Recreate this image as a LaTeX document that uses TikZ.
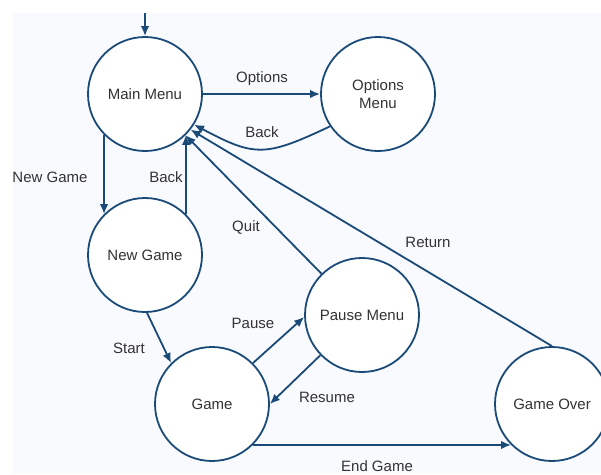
\documentclass[tikz,border=0pt]{standalone}
\usepackage{fontspec}
\setmainfont{Liberation Sans}
\usetikzlibrary{arrows.meta}
\definecolor{navy}{HTML}{1A4A78}
\definecolor{txt}{HTML}{333333}
\definecolor{bgc}{HTML}{F9FAFD}
\tikzset{
  state/.style={circle, draw=navy, line width=1.8pt, fill=white, minimum size=114pt, inner sep=0pt, text=txt, font=\fontsize{15}{18}\selectfont, align=center},
  arr/.style={draw=navy, line width=1.8pt, -{Latex[length=10pt,width=8.5pt]}},
  lbl/.style={text=txt, font=\fontsize{15}{18}\selectfont, inner sep=0pt}
}
\begin{document}
\begin{tikzpicture}[x=1pt,y=-1pt]
\useasboundingbox (0,0) rectangle (601,474);
\fill[bgc] (13,13) rectangle (601,474);
\node[state] (mm) at (145,94) {Main Menu};
\node[state] (om) at (378,94) {Options\\Menu};
\node[state] (ng) at (145,255) {New Game};
\node[state] (g) at (212,404) {Game};
\node[state] (pm) at (362,315) {Pause Menu};
\node[state] (go) at (552,404) {Game Over};
\coordinate (init) at (145,13);
\draw[arr] (init) -- (mm);
\draw[arr] (mm) -- (om);
\draw[arr] (om.214) .. controls (265,157) and (255,157) .. (mm.-32);
\draw[arr] (mm.225) -- (ng.135);
\draw[arr] (ng.45) -- (mm.-45);
\draw[arr] (pm) -- (mm);
\draw[arr] (go.90) -- (mm.-38);
\draw[arr] (ng.-88) -- (g.135);
\draw[arr] (g.45) -- (pm.182);
\draw[arr] (pm.224) -- (g.0);
\draw[arr] (g.-45) -- (go.-135);
\node[lbl] (l1) at (262,79) {Options};
\node[lbl] (l2) at (262,132) {Back};
\node[lbl] (l3) at (50,177) {New Game};
\node[lbl] (l4) at (166,177) {Back};
\node[lbl] (l5) at (246,227) {Quit};
\node[lbl] (l6) at (428,242) {Return};
\node[lbl] (l7) at (129,348) {Start};
\node[lbl] (l8) at (253,323) {Pause};
\node[lbl] (l9) at (327,397) {Resume};
\node[lbl] (l10) at (377,466) {End Game};
\end{tikzpicture}
\end{document}
